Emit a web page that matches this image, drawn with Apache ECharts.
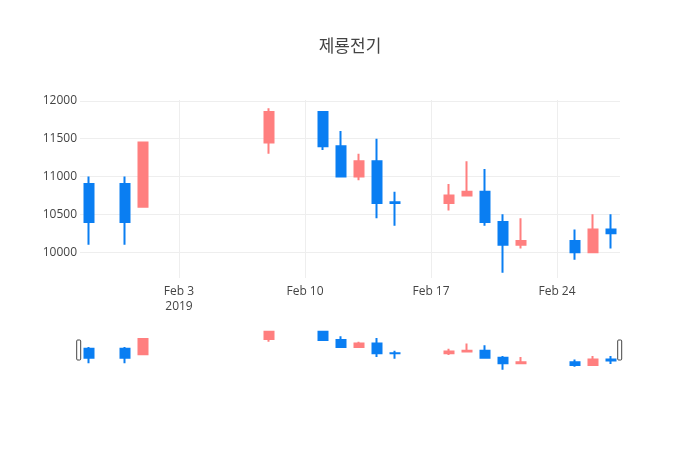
<!DOCTYPE html>
<html>
<head>
<meta charset="utf-8">
<script src="https://cdn.jsdelivr.net/npm/echarts@6/dist/echarts.min.js"></script>
<style>
  html, body { margin: 0; padding: 0; background: #fff; }
  #main { width: 700px; height: 450px; }
</style>
</head>
<body>
<div id="main"></div>
<script>
// 거래일
const dates = ['2019-01-29', '2019-01-31', '2019-02-01', '2019-02-08', '2019-02-11', '2019-02-12',
  '2019-02-13', '2019-02-14', '2019-02-15', '2019-02-18', '2019-02-19', '2019-02-20',
  '2019-02-21', '2019-02-22', '2019-02-25', '2019-02-26', '2019-02-27'];
const opens = [10900, 10900, 10600, 11450, 11850, 11400, 11000, 11200, 10660, 10650, 10750, 10800, 10400, 10100, 10150, 10000, 10300];
const closes = [10400, 10400, 11450, 11850, 11400, 11000, 11200, 10650, 10650, 10750, 10800, 10400, 10100, 10150, 10000, 10300, 10250];
const lows = [10100, 10100, 10600, 11300, 11350, 11000, 10950, 10450, 10350, 10550, 10750, 10350, 9730, 10050, 9900, 10000, 10050];
const highs = [11000, 11000, 11450, 11900, 11850, 11600, 11300, 11500, 10800, 10900, 11200, 11100, 10500, 10450, 10300, 10500, 10500];

// 눈금
const xTickDates = ['2019-02-03', '2019-02-10', '2019-02-17', '2019-02-24'];
const xTickLabels = ['Feb 3\n2019', 'Feb 10', 'Feb 17', 'Feb 24'];
const yTicks = [10000, 10500, 11000, 11500, 12000];

const UP = '#ff7f7f';
const DOWN = '#0a7ef2';
const DAY = 24 * 3600 * 1000;

// 날짜 -> 일 단위 숫자 (UTC 기준)
function dayNum(s) {
  const [y, m, d] = s.split('-').map(Number);
  return Date.UTC(y, m - 1, d) / DAY;
}

const candles = dates.map((d, i) => [dayNum(d), opens[i], closes[i], lows[i], highs[i]]);
const xMin = dayNum('2019-01-28') + 0.5;
const xMax = dayNum('2019-02-27') + 0.5;
const yMin = 9660;
const yMax = 12010;
const tickDays = xTickDates.map(dayNum);

const myChart = echarts.init(document.getElementById('main'));

const candleStyle = {
  color: UP,
  color0: DOWN,
  borderColor: UP,
  borderColor0: DOWN,
  borderWidth: 2
};

const option = {
  animation: false,
  backgroundColor: '#fff',
  title: {
    text: '제룡전기',
    left: 'center',
    top: 32,
    textStyle: {
      fontFamily: 'Noto Sans CJK KR',
      fontSize: 17,
      fontWeight: 'normal',
      color: '#444'
    }
  },
  grid: [
    { left: 80, right: 80, top: 100, height: 178 },
    { left: 80, right: 80, top: 329, height: 42 }
  ],
  xAxis: [
    {
      type: 'value',
      gridIndex: 0,
      min: xMin,
      max: xMax,
      axisLine: { show: false },
      axisTick: { show: false, customValues: tickDays },
      splitLine: { show: true, lineStyle: { color: '#eee', width: 1 } },
      axisLabel: {
        customValues: tickDays,
        color: '#444',
        fontFamily: 'Open Sans',
        fontSize: 12,
        lineHeight: 15,
        margin: 6,
        formatter(value) {
          const i = tickDays.indexOf(value);
          return i >= 0 ? xTickLabels[i] : '';
        }
      }
    },
    {
      type: 'value',
      gridIndex: 1,
      min: xMin,
      max: xMax,
      show: false
    }
  ],
  yAxis: [
    {
      type: 'value',
      gridIndex: 0,
      min: yMin,
      max: yMax,
      axisLine: { show: false },
      axisTick: { show: false, customValues: yTicks },
      splitLine: { show: true, lineStyle: { color: '#eee', width: 1 } },
      axisLabel: {
        customValues: yTicks,
        color: '#444',
        fontFamily: 'Open Sans',
        fontSize: 12,
        margin: 3,
        formatter: value => String(value)
      }
    },
    {
      type: 'value',
      gridIndex: 1,
      min: yMin,
      max: yMax,
      show: false
    }
  ],
  dataZoom: [
    {
      type: 'slider',
      xAxisIndex: [0, 1],
      filterMode: 'none',
      start: 0,
      end: 100,
      left: 77,
      right: 80,
      top: 340,
      height: 20,
      showDataShadow: false,
      showDetail: false,
      brushSelect: false,
      moveHandleSize: 0,
      backgroundColor: 'rgba(0,0,0,0)',
      borderColor: 'rgba(0,0,0,0)',
      fillerColor: 'rgba(0,0,0,0)',
      handleIcon: 'path://M1,0 H3 Q4,0 4,1 V19 Q4,20 3,20 H1 Q0,20 0,19 V1 Q0,0 1,0 Z',
      handleSize: '100%',
      handleStyle: { color: '#fff', borderColor: '#444', borderWidth: 1 },
      emphasis: { handleStyle: { color: '#fff', borderColor: '#444', borderWidth: 1 } }
    }
  ],
  series: [
    {
      name: '제룡전기',
      type: 'candlestick',
      xAxisIndex: 0,
      yAxisIndex: 0,
      barWidth: 9,
      itemStyle: candleStyle,
      encode: { x: 0, y: [1, 2, 3, 4] },
      data: candles
    },
    {
      name: '제룡전기 range',
      type: 'candlestick',
      xAxisIndex: 1,
      yAxisIndex: 1,
      barWidth: 9,
      silent: true,
      itemStyle: candleStyle,
      encode: { x: 0, y: [1, 2, 3, 4] },
      data: candles
    }
  ]
};

myChart.setOption(option);
</script>
</body>
</html>
